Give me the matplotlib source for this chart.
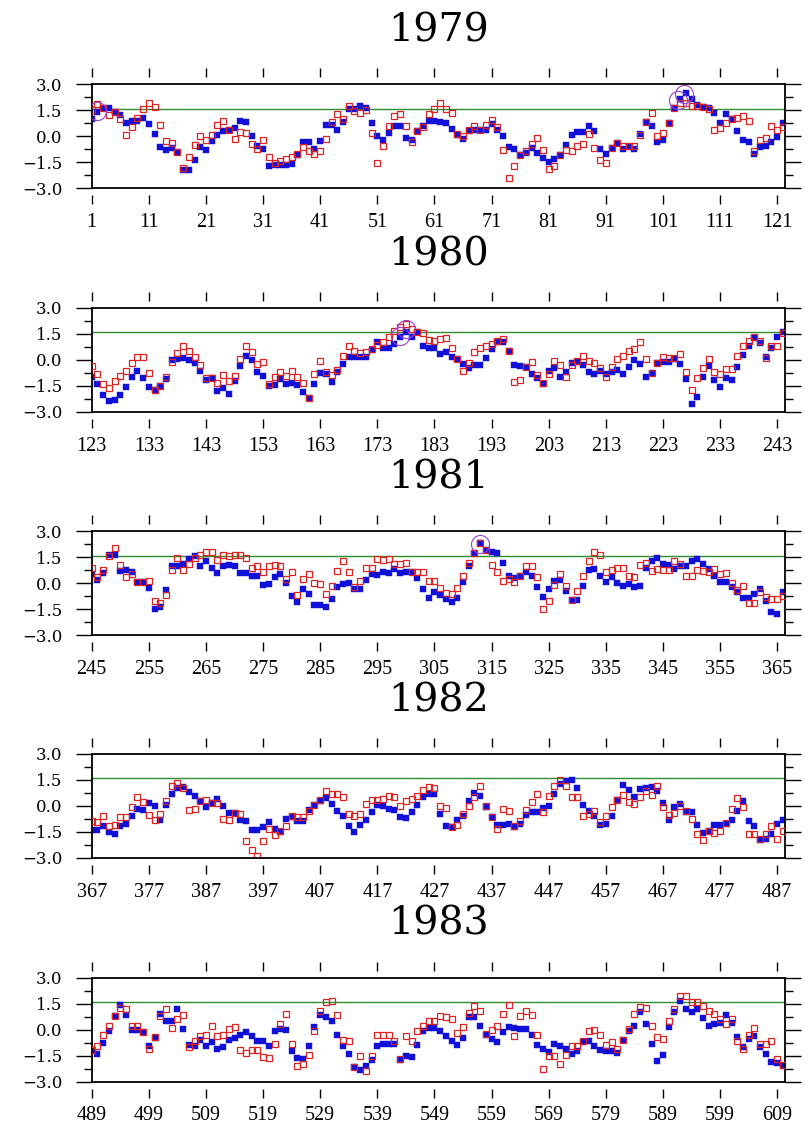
import matplotlib
matplotlib.use("Agg")
import matplotlib.pyplot as plt
import numpy as np

# daily index values, 122 days per panel
years = ["1979", "1980", "1981", "1982", "1983"]

blue_1979 = [1.0, 1.43, 1.66, 1.62, 1.43, 1.24, 0.76, 0.86, 0.86, 1.05,
             0.7, 0.15, -0.6, -0.77, -0.67, -0.92, -1.95, -1.95, -1.34, -0.6,
             -0.77, -0.25, 0.1, 0.29, 0.38, 0.48, 0.9, 0.8, 0.0, -0.58,
             -0.74, -1.74, -1.68, -1.68, -1.68, -1.59, -1.06, -0.35, -0.35, -0.74,
             -0.29, 0.68, 0.68, 0.39, 0.81, 1.55, 1.59, 1.74, 1.65, 0.77,
             0.0, -0.19, 0.19, 0.58, 0.58, -0.1, -0.23, 0.29, 0.58, 0.91,
             0.87, 0.81, 0.77, 0.43, 0.1, -0.14, 0.29, 0.35, 0.35, 0.35,
             0.72, 0.39, 0.0, -0.64, -0.72, -1.06, -0.97, -0.68, -0.97, -1.26,
             -1.51, -1.32, -1.1, -0.48, 0.1, 0.25, 0.25, 0.58, 0.29, -0.72,
             -1.0, -0.68, -0.39, -0.72, -0.62, -0.72, 0.15, 0.81, 0.58, -0.33,
             -0.23, 0.77, 1.61, 2.13, 2.48, 2.13, 1.8, 1.7, 1.64, 1.32,
             0.77, 1.26, 0.97, 0.29, -0.19, -0.35, -1.03, -0.62, -0.58, -0.33,
             -0.06, 0.77]
red_1979 = [1.49, 1.85, 1.66, 1.24, 1.43, 1.0, 0.1, 0.51, 1.05, 1.57,
            1.9, 1.68, 0.67, -0.29, -0.38, -0.92, -1.82, -1.19, -0.48, 0.0,
            -0.19, 0.1, 0.67, 0.9, 0.38, -0.15, 0.23, 0.19, -0.43, -0.72,
            -0.23, -1.2, -1.55, -1.41, -1.32, -1.2, -1.0, -0.62, -0.83, -1.03,
            -0.87, -0.15, 0.81, 1.26, 1.0, 1.74, 1.45, 1.36, 1.5, 0.19,
            -1.55, -0.54, 0.62, 1.16, 1.3, 0.58, -0.35, 0.29, 0.54, 1.26,
            1.59, 1.94, 1.59, 1.36, 0.15, 0.04, 0.35, 0.58, 0.39, 0.68,
            0.93, 0.54, -0.77, -2.4, -1.74, -1.06, -0.87, -0.43, -0.1, -0.77,
            -1.88, -1.7, -1.1, -0.81, -0.87, -0.58, -0.43, 0.15, -0.68, -1.39,
            -1.55, -0.68, -0.39, -0.54, -0.54, -0.54, 0.1, 0.81, 1.32, 0.04,
            0.19, 0.77, 1.61, 1.94, 1.94, 1.74, 1.74, 1.68, 1.59, 0.35,
            0.45, 0.77, 0.97, 1.06, 1.16, 0.87, -0.83, -0.19, -0.1, 0.62,
            0.39, 0.54]

blue_1980 = [-1.0, -1.41, -2.03, -2.38, -2.28, -2.03, -1.55, -0.97, -0.62, -1.06,
             -1.55, -1.74, -1.49, -1.1, 0.0, 0.06, 0.1, 0.0, -0.19, -0.64,
             -1.16, -1.03, -1.8, -1.6, -1.99, -1.2, -0.33, 0.25, 0.0, -0.68,
             -0.9, -1.49, -1.45, -1.12, -1.39, -1.35, -1.45, -1.84, -2.17, -1.39,
             -0.77, -0.83, -1.26, -0.72, -0.25, 0.19, 0.19, 0.19, 0.19, 0.58,
             1.06, 0.68, 0.72, 0.91, 1.35, 1.64, 1.35, 1.59, 0.83, 0.68,
             0.72, 0.35, 0.48, 0.15, 0.06, -0.25, -0.48, -0.29, -0.29, 0.1,
             0.64, 1.06, 1.06, 0.52, -0.29, -0.33, -0.39, -0.81, -1.06, -1.41,
             -0.64, -0.48, -0.97, -0.68, -0.19, -0.1, -0.29, -0.72, -0.83, -0.64,
             -0.83, -0.72, -0.58, -0.81, -0.39, 0.0, -0.25, -1.0, -0.77, -0.19,
             -0.1, -0.1, 0.04, -0.25, -1.12, -2.52, -2.13, -0.97, -0.35, -1.16,
             -1.55, -1.06, -1.16, -0.39, 0.29, 0.81, 1.26, 0.97, 0.19, 0.68,
             1.32, 1.6]
red_1980 = [-0.35, -0.83, -1.41, -1.6, -1.22, -0.93, -0.64, -0.15, 0.19, 0.15,
            -0.77, -1.74, -1.49, -1.0, -0.1, 0.39, 0.81, 0.52, 0.19, -0.29,
            -1.06, -1.03, -1.3, -0.87, -1.22, -0.9, 0.06, 0.81, 0.48, -0.25,
            -0.1, -1.41, -1.0, -0.72, -0.93, -0.64, -0.97, -1.32, -2.17, -0.83,
            -0.04, -0.68, -0.87, -0.58, 0.23, 0.83, 0.54, 0.43, 0.48, 0.62,
            0.87, 1.06, 1.3, 1.68, 1.88, 2.07, 1.78, 1.6, 1.55, 1.16,
            1.12, 1.22, 1.26, 0.72, 0.04, -0.64, -0.19, 0.45, 0.72, 0.81,
            0.93, 1.1, 1.2, 0.52, -1.26, -1.16, -0.39, -0.1, -0.87, -1.3,
            -0.81, -0.04, -0.29, -0.97, -0.29, -0.06, 0.25, -0.04, -0.19, -0.48,
            -0.97, -0.39, 0.06, 0.25, 0.54, 0.64, 1.06, 0.04, -0.77, -0.19,
            0.19, 0.13, 0.1, 0.35, -0.68, -1.74, -1.06, -0.48, 0.04, -0.68,
            -0.83, -0.52, -0.52, 0.25, 0.81, 1.12, 1.3, 1.12, 0.1, 0.81,
            0.81, 1.55]

blue_1981 = [0.52, 0.19, 0.62, 1.65, 1.65, 0.72, 0.77, 0.68, 0.1, 0.06,
             -0.29, -1.5, -1.39, -0.39, 0.97, 1.0, 1.1, 1.39, 1.55, 1.0,
             1.26, 0.87, 0.58, 0.97, 1.03, 0.97, 0.58, 0.58, 0.43, 0.43,
             -0.1, -0.06, 0.35, 0.52, 0.0, -0.74, -1.06, -0.35, -0.62, -1.26,
             -1.26, -1.39, -0.93, -0.19, -0.04, 0.04, -0.33, -0.33, 0.19, 0.52,
             0.48, 0.64, 0.62, 0.81, 0.62, 0.68, 0.68, 0.29, -0.33, -0.87,
             -0.48, -0.68, -0.93, -1.06, -0.87, 0.06, 0.97, 1.74, 2.32, 1.94,
             1.78, 1.74, 1.16, 0.45, 0.29, 0.45, 0.64, 0.45, -0.19, -0.77,
             -0.35, 0.14, 0.19, -0.43, -0.97, -0.97, -0.14, 0.74, 0.83, 0.43,
             0.06, 0.35, 0.0, -0.15, -0.04, -0.23, -0.15, 0.87, 1.26, 1.45,
             1.1, 1.06, 0.83, 1.0, 0.97, 1.26, 1.41, 1.1, 0.81, 0.45,
             0.1, 0.06, -0.19, -0.48, -0.87, -0.87, -0.62, -0.33, -1.0, -1.64,
             -1.78, -0.48]
red_1981 = [0.91, 0.35, 0.77, 1.55, 2.03, 1.06, 0.35, 0.54, 0.1, 0.06,
            0.15, -1.03, -1.12, -0.68, 0.77, 1.45, 0.74, 1.1, 1.45, 1.65,
            1.8, 1.8, 1.35, 1.65, 1.55, 1.65, 1.65, 1.45, 0.91, 1.0,
            0.68, 0.97, 1.06, 1.0, 0.23, 0.64, -0.68, 0.23, 0.54, 0.04,
            -0.04, -0.62, -0.15, 0.72, 1.3, 0.64, -0.19, 0.15, 0.87, 0.91,
            1.39, 1.35, 1.39, 1.1, 1.1, 1.16, 0.64, 0.64, 0.68, 0.15,
            0.14, -0.29, -0.54, -0.62, -0.29, 0.43, 1.2, 1.74, 2.32, 1.94,
            1.06, 0.68, 0.14, 0.23, 0.06, 0.45, 1.0, 1.0, 0.35, -1.49,
            -1.0, -0.1, 0.52, -0.14, -0.97, -0.45, 0.43, 1.26, 1.78, 1.65,
            0.64, 0.77, 0.91, 0.87, 0.43, 0.39, 1.03, 1.16, 0.72, 0.81,
            0.77, 0.77, 1.26, 1.1, 0.43, 0.43, 0.77, 0.72, 0.68, 0.83,
            0.52, 0.62, 0.04, -0.39, -0.15, -1.16, -1.16, -0.48, -0.77, -0.93,
            -0.93, -0.74]

blue_1982 = [-1.37, -1.37, -1.13, -1.5, -1.6, -1.17, -1.02, -0.56, -0.15, -0.21,
             0.17, -0.02, -0.79, 0.04, 0.69, 1.04, 1.08, 0.79, 0.56, 0.31,
             -0.08, 0.17, 0.42, -0.02, -0.4, -0.4, -0.79, -0.88, -1.4, -1.37,
             -1.23, -0.94, -1.33, -1.5, -0.73, -0.65, -0.85, -0.85, -0.21, 0.08,
             0.31, 0.46, 0.12, -0.31, -0.6, -1.17, -1.5, -1.08, -0.79, -0.37,
             0.08, -0.02, -0.15, -0.25, -0.65, -0.69, -0.37, 0.04, 0.5, 0.69,
             0.69, -0.46, -1.13, -1.23, -0.79, -0.6, 0.27, 0.75, 0.56, -0.08,
             -0.65, -1.08, -1.08, -1.02, -1.23, -1.02, -0.5, -0.37, -0.37, -0.12,
             0.02, 0.69, 1.27, 1.46, 1.52, 1.04, 0.04, -0.31, -0.6, -1.08,
             -1.04, -0.6, 0.37, 1.19, 0.94, 0.52, 0.98, 1.04, 1.08, 0.88,
             0.17, -0.79, -0.08, 0.12, -0.37, -0.37, -1.08, -1.56, -1.42, -1.08,
             -1.08, -1.04, -0.79, -0.27, 0.27, -0.85, -1.17, -1.94, -1.9, -1.62,
             -1.02, -0.79]
red_1982 = [-0.85, -0.94, -0.56, -1.13, -1.08, -0.65, -0.63, -0.08, 0.52, 0.21,
            -0.5, -0.79, -0.46, 0.31, 1.17, 1.33, 1.04, -0.21, -0.15, 0.27,
            0.37, 0.17, 0.17, -0.73, -0.83, -0.4, -0.46, -2.04, -2.52, -2.9,
            -2.0, -1.33, -1.69, -1.42, -1.17, -0.6, -0.65, -0.65, -0.27, 0.08,
            0.37, 0.88, 0.71, 0.69, 0.5, -0.46, -0.6, -0.46, 0.12, 0.37,
            0.37, 0.42, 0.56, 0.52, 0.02, 0.27, 0.42, 0.56, 0.9, 1.08,
            1.04, -0.02, -0.12, -1.23, -1.08, -0.46, -0.02, 0.5, 1.17, -0.02,
            -0.65, -1.33, -0.15, -0.27, -1.13, -0.88, -0.25, 0.23, 0.71, -0.37,
            0.56, 1.17, 1.52, 1.13, 0.5, 0.5, -0.6, -0.46, -0.31, -0.94,
            -0.6, -0.08, 0.37, 0.65, 0.21, 0.13, 0.52, 0.85, 0.62, 1.13,
            -0.08, -0.5, -0.4, -0.02, -0.31, -0.73, -1.62, -1.98, -1.46, -1.56,
            -1.46, -0.98, -0.17, 0.46, -0.08, -1.62, -1.62, -1.9, -1.62, -1.17,
            -1.9, -1.46]

blue_1983 = [-1.16, -1.39, -0.77, -0.1, 0.77, 1.39, 0.81, 0.0, 0.0, -0.15,
             -0.93, -0.48, 0.91, 0.48, 0.48, 1.2, 0.04, -0.87, -0.93, -0.62,
             -0.97, -0.74, -1.12, -1.03, -0.58, -0.48, -0.33, -0.15, -0.39, -0.68,
             -0.64, -0.93, -0.1, 0.04, 0.0, -1.22, -1.64, -1.7, -0.97, 0.14,
             0.81, 0.72, 0.48, -0.29, -0.93, -1.39, -2.17, -2.32, -2.09, -1.74,
             -0.97, -0.81, -0.81, -0.81, -1.78, -1.55, -1.59, -0.87, -0.06, 0.1,
             0.1, -0.06, -0.39, -0.68, -0.87, -0.48, 0.74, 0.74, 0.19, -0.29,
             -0.54, -0.72, -0.15, 0.14, 0.1, 0.04, 0.04, -0.33, -0.87, -1.12,
             -1.29, -0.81, -0.97, -1.12, -1.41, -1.22, -0.74, -0.68, -0.93, -1.16,
             -1.22, -1.26, -1.35, -0.62, -0.1, 0.23, 1.01, 0.29, -0.81, -1.84,
             -1.45, 0.15, 1.01, 1.65, 1.16, 1.01, 1.2, 0.68, 0.23, 0.33,
             0.35, 0.81, 0.35, -0.43, -1.0, -0.54, -0.39, -1.0, -1.39, -1.9,
             -1.94, -2.13]
red_1983 = [-1.16, -0.97, -0.33, 0.23, 0.77, 1.26, 1.2, 0.19, 0.19, -0.15,
            -1.12, -0.45, 0.77, 1.2, 0.06, 0.62, 0.81, -1.03, -0.68, -0.39,
            -0.29, 0.19, -0.39, -0.33, 0.04, 0.15, -1.16, -1.35, -1.16, -1.16,
            -1.59, -1.64, -0.81, 0.33, 0.87, -0.81, -2.09, -1.97, -1.49, -0.06,
            1.06, 1.59, 1.63, 0.81, -0.58, -0.64, -2.17, -1.51, -2.42, -1.55,
            -0.33, -0.33, -0.33, -0.68, -1.7, -0.35, -0.64, -0.1, 0.19, 0.48,
            0.48, 0.77, 0.72, 0.58, -0.23, 0.15, 0.93, 1.35, 1.06, -0.25,
            0.0, 0.23, 0.87, 1.39, -0.35, 0.77, 1.06, 0.81, -0.33, -2.26,
            -1.55, -1.55, -1.97, -1.45, -0.93, -0.97, -0.68, -0.1, 0.0, -0.29,
            -0.87, -0.74, -1.1, -0.58, 0.04, 0.91, 1.29, 1.22, 0.23, -0.45,
            -0.54, 0.48, 1.2, 1.94, 1.94, 1.61, 1.61, 1.35, 1.06, 0.91,
            0.58, 0.29, 0.62, -0.68, -1.12, -0.29, 0.06, -0.81, -0.81, -0.64,
            -1.7, -2.03]

blue_series = [blue_1979, blue_1980, blue_1981, blue_1982, blue_1983]
red_series = [red_1979, red_1980, red_1981, red_1982, red_1983]

# marked events (day number, value)
circle_days = [2, 104.6, 103.7, 178, 177, 313]
circle_vals = [1.45, 2.45, 2.1, 1.8, 1.4, 2.28]

threshold = 1.6
days_per_panel = 122

W, H = 809, 1126
fig = plt.figure(figsize=(W / 100, H / 100), dpi=100)

panel_tops = [84.3, 308.0, 531.3, 754.0, 977.5]
ax_left, ax_width, ax_height = 91.7, 693.5, 104.0
px = 0.72  # points per pixel

for i, year in enumerate(years):
    top = panel_tops[i]
    ax = fig.add_axes([ax_left / W, 1 - (top + ax_height) / H, ax_width / W, ax_height / H])
    start = 1 + days_per_panel * i
    days = np.arange(start, start + days_per_panel)
    ax.set_xlim(start, start + 121.4)
    ax.set_ylim(-3, 3)

    ax.axhline(threshold, color="#2e8b2e", lw=1.0, zorder=1)
    ax.plot(days, blue_series[i], "s", ms=3.9, color="#1010d8", mec="#1010d8", mew=0.3, zorder=2)
    ax.plot(days, red_series[i], "s", ms=4.6, mfc="none", mec="#dd2222", mew=0.9, zorder=3)
    for cd, cv in zip(circle_days, circle_vals):
        if start <= cd < start + days_per_panel:
            ax.plot(cd, cv, "o", ms=13, mfc="none", mec="#9b40d6", mew=0.8, zorder=4)

    # frame: left/right spines, top/bottom drawn as lines; tick spines pushed outward
    for side in ("left", "right"):
        ax.spines[side].set_linewidth(1.3)
    for side in ("top", "bottom"):
        ax.spines[side].set_position(("outward", 7 * px))
        ax.spines[side].set_color("none")
    ax.axhline(3, color="black", lw=1.3, clip_on=False, zorder=5)
    ax.axhline(-3, color="black", lw=1.3, clip_on=False, zorder=5)

    ticks = list(range(start, start + 121, 10))
    ax.set_xticks(ticks)
    ax.set_xticklabels([str(t) for t in ticks], family="Liberation Serif", fontsize=14.5)
    ax.tick_params(axis="x", top=True, bottom=True, direction="out", length=9 * px,
                   width=1.0, pad=9 * px)

    ax.set_yticks([-3, -1.5, 0, 1.5, 3])
    ax.set_yticks([-2.25, -0.75, 0.75, 2.25], minor=True)
    ax.set_yticklabels(["\u22123.0", "\u22121.5", "0.0", "1.5", "3.0"],
                       family="DejaVu Serif", fontsize=12)
    ax.tick_params(axis="y", which="both", left=True, right=True, direction="out", width=1.0)
    ax.tick_params(axis="y", which="major", length=16 * px, pad=13 * px)
    ax.tick_params(axis="y", which="minor", length=8 * px)

    fig.text((ax_left + ax_width / 2) / W, 1 - (top - 43) / H, year, ha="center",
             va="baseline", family="DejaVu Serif", fontsize=28.5)

fig.savefig("out.png", dpi=100)
